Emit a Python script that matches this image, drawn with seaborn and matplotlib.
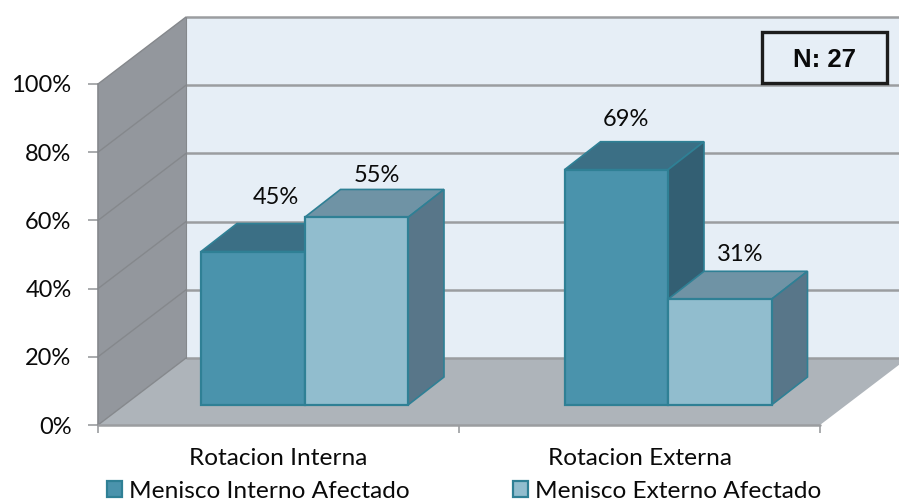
import matplotlib
matplotlib.use("Agg")
import matplotlib.pyplot as plt
from matplotlib.patches import Polygon, Rectangle
import pandas as pd
import seaborn as sns

# Chart values
movements = ["Rotacion Interna", "Rotacion Externa"]
series_names = ["Menisco Interno Afectado", "Menisco Externo Afectado"]
menisco_interno = [45, 69]
menisco_externo = [55, 31]
percent_ticks = [0, 20, 40, 60, 80, 100]
sample_note = "N: 27"

W, H = 899, 501
PX_X = 361.0          # pixels per category
PX_Y = 3.41           # pixels per percentage point

# Oblique projection used to fake the 3D box
ROOM_DX, ROOM_DY = 88 / PX_X, 67 / PX_Y
BAR_DX, BAR_DY = 36 / PX_X, 28 / PX_Y
SET_DX, SET_DY = 26 / PX_X, 20 / PX_Y
GROUP_SHIFT = [0, 2.5 / PX_X]

FACE = {series_names[0]: "#4A93AC", series_names[1]: "#91BDCE"}
TOP = ["#3B6F85", "#6F93A5"]
SIDE = ["#335F73", "#587689"]
EDGE = "#2F8095"
GRID = "#9B9DA0"

# Offsets of the value labels from the top of each bar, in pixels
LABEL_NUDGE = [[(23, 54), (10, 50)], [(21, 42), (20, 45)]]

sns.set_theme(style="white")
plt.rcParams["font.family"] = ["Lato", "DejaVu Sans"]

df = pd.DataFrame({
    "movimiento": movements * 2,
    "serie": [series_names[0]] * 2 + [series_names[1]] * 2,
    "pct": menisco_interno + menisco_externo,
})

fig = plt.figure(figsize=(W / 100, H / 100), dpi=100, facecolor="white")
ax = fig.add_axes([98 / W, 1 - 425 / H, 722 / W, 341 / H])

sns.barplot(data=df, x="movimiento", y="pct", hue="serie", order=movements,
            hue_order=series_names, palette=FACE, saturation=1, width=207 / PX_X,
            gap=0, edgecolor=EDGE, linewidth=1.6, ax=ax, zorder=4)

ax.set_xlim(-0.5, 1.5)
ax.set_ylim(0, 100)
ax.patch.set_visible(False)
for s in ax.spines.values():
    s.set_visible(False)


def poly(points, color, z, edge="none", lw=0):
    ax.add_patch(Polygon(points, closed=True, facecolor=color, edgecolor=edge,
                         linewidth=lw, zorder=z, clip_on=False))


x0, x1 = ax.get_xlim()
# Back wall, side wall and floor of the box
poly([(x0 + ROOM_DX, ROOM_DY), (x1 + ROOM_DX, ROOM_DY),
      (x1 + ROOM_DX, 100 + ROOM_DY), (x0 + ROOM_DX, 100 + ROOM_DY)], "#E6EEF6", 0.5)
poly([(x0, 0), (x0 + ROOM_DX, ROOM_DY), (x0 + ROOM_DX, 100 + ROOM_DY), (x0, 100)],
     "#93979D", 0.6)
poly([(x0, 0), (x1, 0), (x1 + ROOM_DX, ROOM_DY), (x0 + ROOM_DX, ROOM_DY)],
     "#AEB4BA", 0.7)

# Gridlines run along the back wall and down the side wall
for p in percent_ticks:
    ax.plot([x0 + ROOM_DX, x1 + ROOM_DX], [p + ROOM_DY] * 2, color=GRID, lw=1.8,
            zorder=1, clip_on=False, solid_capstyle="butt")
    ax.plot([x0, x0 + ROOM_DX], [p, p + ROOM_DY], color="#85888C", lw=1.0,
            zorder=1, clip_on=False)
ax.plot([x0, x0], [0, 100], color="#85888C", lw=1.2, zorder=1, clip_on=False)
ax.plot([x0, x1], [0, 0], color=GRID, lw=1.8, zorder=1, clip_on=False)
ax.plot([x0 + ROOM_DX] * 2, [ROOM_DY, 100 + ROOM_DY], color="#85888C", lw=0.8,
        zorder=1, clip_on=False)

# Turn every flat bar into a block standing on the floor
for h, container in enumerate(ax.containers):
    for i, bar in enumerate(container):
        bar.set_x(bar.get_x() + SET_DX + GROUP_SHIFT[i])
        bar.set_y(SET_DY)
        bar.set_zorder(4 + 2 * h + 1)
        bl, br = bar.get_x(), bar.get_x() + bar.get_width()
        yb, yt = bar.get_y(), bar.get_y() + bar.get_height()
        poly([(bl, yt), (br, yt), (br + BAR_DX, yt + BAR_DY), (bl + BAR_DX, yt + BAR_DY)],
             TOP[h], 4 + 2 * h, EDGE, 1.2)
        poly([(br, yb), (br + BAR_DX, yb + BAR_DY), (br + BAR_DX, yt + BAR_DY), (br, yt)],
             SIDE[h], 4 + 2 * h, EDGE, 1.2)
        ax.annotate(f"{bar.get_height():.0f}%", xy=(bl + bar.get_width() / 2, yt),
                    xytext=LABEL_NUDGE[h][i], textcoords="offset pixels",
                    ha="center", va="center", fontsize=17, color="#0A0A0A", zorder=12)

# Axis ticks and labels
ax.set_xlabel("")
ax.set_ylabel("")
ax.set_yticks(percent_ticks, [f"{p}%" for p in percent_ticks])
ax.set_xticks([0, 1], movements)
ax.set_xticks([x0, 0.5, x1], minor=True)
ax.tick_params(axis="y", length=7.5, width=1.2, color=GRID, labelsize=17, pad=11.5,
               left=True, labelcolor="#0A0A0A")
ax.tick_params(axis="x", which="major", length=0, labelsize=17.6, pad=16.5, labelcolor="#0A0A0A")
ax.tick_params(axis="x", which="minor", length=6, width=1.2, color=GRID, bottom=True)

# Sample size box on the back wall
ax.add_patch(Rectangle((1.5 + (762 - 820) / PX_X, (425 - 83) / PX_Y),
                       125 / PX_X, 51 / PX_Y, facecolor="#E6EEF6", edgecolor="#1C1C1C",
                       linewidth=2.4, zorder=8, clip_on=False))
ax.text(1.5 + (824.5 - 820) / PX_X, (425 - 60) / PX_Y, sample_note, ha="center", va="center",
        fontsize=18.5, fontweight="bold", family="Liberation Sans", color="#0A0A0A", zorder=9)

sns.move_legend(ax, "center left", bbox_to_anchor=(107 / W, 1 - 491.5 / H),
                bbox_transform=fig.transFigure, ncol=2, frameon=False, title=None,
                fontsize=17.6, handlelength=0.62, handleheight=0.62, handletextpad=0.3,
                columnspacing=4.2, borderpad=0, borderaxespad=0)
for text in ax.get_legend().get_texts():
    text.set_color("#0A0A0A")

fig.savefig("out.png", dpi=100, facecolor="white")
